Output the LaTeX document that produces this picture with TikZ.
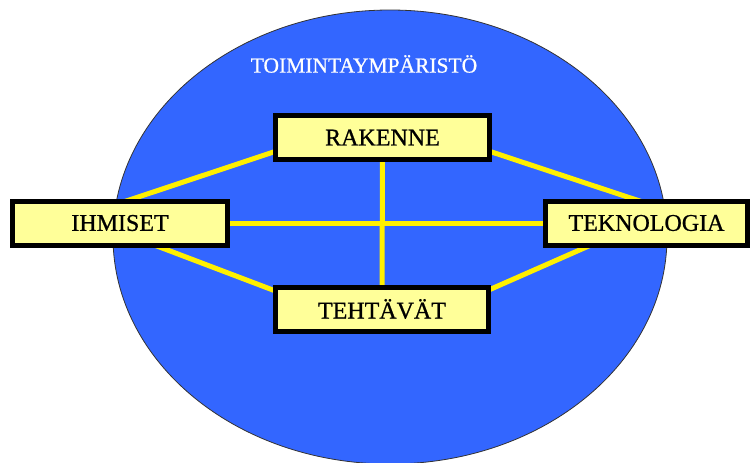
\documentclass[tikz,border=0pt]{standalone}
\usepackage{fontspec}
\setmainfont{Liberation Serif}
\newfontfamily\labelserif{Liberation Serif}[FakeBold=0.8]
\usetikzlibrary{calc}
\definecolor{envblue}{RGB}{51,102,255}
\definecolor{linkyellow}{RGB}{255,240,0}
\definecolor{boxfill}{RGB}{255,255,153}
\tikzset{
  elembox/.style={draw=black, line width=5pt, fill=boxfill, inner sep=0pt,
    minimum height=44pt, font=\labelserif\fontsize{24}{26}\selectfont},
  link/.style={draw=linkyellow, line width=5pt}
}
\begin{document}
\begin{tikzpicture}[x=1pt, y=-1pt]
  \useasboundingbox (0,0) rectangle (753,463);
  \fill[white] (0,0) rectangle (753,463);

  % surrounding environment
  \draw[fill=envblue, draw=black!80, line width=0.8pt] (390,237) ellipse [x radius=277, y radius=227];
  \node[text=white, font=\labelserif\fontsize{21.5}{24}\selectfont] (env) at (364,64) {TOIMINTAYMPÄRISTÖ};

  % element boxes (positions only; drawn again on top of the links)
  \path
    (120,223)   node[elembox, minimum width=215pt] (ihm) {IHMISET}
    (382.5,137.5) node[elembox, minimum width=214pt] (rak) {RAKENNE}
    (382,309)   node[elembox, minimum width=213pt] (teh) {TEHTÄVÄT}
    (646.5,223) node[elembox, minimum width=202pt] (tek) {TEKNOLOGIA};

  % links between the elements
  \draw[link] (ihm.center) -- (tek.center);
  \draw[link] (rak.center) -- (teh.center);
  \draw[link] ($(ihm.north)+(0,4.6)$) -- ($(rak.west)+(17,9)$);
  \draw[link] ($(ihm.center)+(0,9)$) -- ($(teh.west)+(17,-12.5)$);
  \draw[link] ($(tek.north)+(-0.5,4.6)$) -- ($(rak.east)+(-17,9)$);
  \draw[link] ($(tek.center)+(-26,9)$) -- ($(teh.east)+(-17,-12.5)$);

  % boxes on top
  \node[elembox, minimum width=215pt] at (ihm) {IHMISET};
  \node[elembox, minimum width=214pt] at (rak) {RAKENNE};
  \node[elembox, minimum width=213pt] at (teh) {TEHTÄVÄT};
  \node[elembox, minimum width=202pt] at (tek) {TEKNOLOGIA};
\end{tikzpicture}
\end{document}
